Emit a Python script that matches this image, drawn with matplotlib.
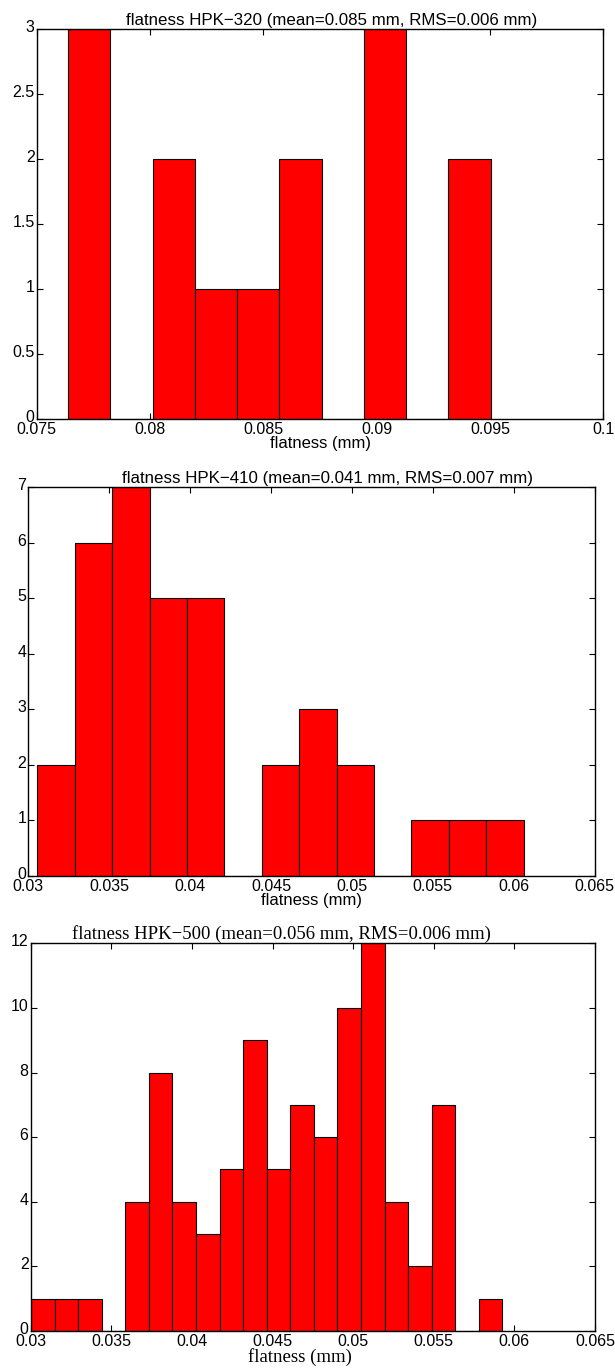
import numpy as np
import matplotlib
matplotlib.use("Agg")
import matplotlib.pyplot as plt
import matplotlib.transforms as mtransforms
from matplotlib.ticker import MultipleLocator, FuncFormatter

# Histogram counts per bin and the bin range for each sensor batch
counts_320 = [3, 0, 2, 1, 1, 2, 0, 3, 0, 2]
range_320 = (0.07638, 0.09503)

counts_410 = [2, 6, 7, 5, 5, 0, 2, 3, 2, 0, 1, 1, 1]
range_410 = (0.03056, 0.06061)

counts_500 = [1, 1, 1, 0, 4, 8, 4, 3, 5, 9, 5, 7, 6, 10, 12, 4, 2, 7, 0, 1]
range_500 = (0.03002, 0.05926)

titles = [
    "flatness HPK\u2212320 (mean=0.085 mm, RMS=0.006 mm)",
    "flatness HPK\u2212410 (mean=0.041 mm, RMS=0.007 mm)",
    "flatness HPK\u2212500 (mean=0.056 mm, RMS=0.006 mm)",
]
xlabel = "flatness (mm)"

xlims = [(0.075, 0.1), (0.03, 0.065), (0.03, 0.065)]
ylims = [3, 7, 12]
ysteps = [0.5, 1, 2]

SANS = ["Liberation Sans", "DejaVu Sans"]
SERIF = ["Liberation Serif", "DejaVu Serif"]

fig = plt.figure(figsize=(6.15, 13.72), dpi=100)

positions = [
    [0.0597, 0.6948, 0.9213, 0.2840],
    [0.0460, 0.3615, 0.9210, 0.2833],
    [0.0499, 0.02988, 0.9176, 0.2826],
]

datasets = [(counts_320, range_320), (counts_410, range_410), (counts_500, range_500)]
label_fonts = [SANS, SANS, SERIF]
title_sizes = [12.2, 12.2, 13.5]
xlabel_sizes = [12, 12, 13.5]
# horizontal placement of titles and x labels (axes fraction)
title_x = [0.521, 0.529, 0.445]
xlabel_x = [0.5, 0.5, 0.477]

# y tick labels sit slightly above their ticks
ylabel_shift = mtransforms.ScaledTranslation(0, 3.0 / 100, fig.dpi_scale_trans)


def fmt(v, pos):
    return "%g" % v


for i, ((counts, (lo, hi)), pos) in enumerate(zip(datasets, positions)):
    ax = fig.add_axes(pos)
    edges = np.linspace(lo, hi, len(counts) + 1)
    widths = np.diff(edges)
    ax.bar(edges[:-1], counts, width=widths, align="edge",
           color="#ff0000", edgecolor="black", linewidth=0.8, zorder=2)
    ax.set_xlim(*xlims[i])
    ax.set_ylim(0, ylims[i])
    ax.xaxis.set_major_locator(MultipleLocator(0.005))
    ax.yaxis.set_major_locator(MultipleLocator(ysteps[i]))
    ax.xaxis.set_major_formatter(FuncFormatter(fmt))
    ax.yaxis.set_major_formatter(FuncFormatter(fmt))
    ax.tick_params(direction="in", length=4, width=0.8, top=True, right=True,
                   labelsize=11.5)
    ax.tick_params(axis="x", pad=2.5)
    ax.tick_params(axis="y", pad=1.5)
    for lab in ax.get_xticklabels() + ax.get_yticklabels():
        lab.set_family(SANS)
    for lab in ax.get_yticklabels():
        lab.set_transform(lab.get_transform() + ylabel_shift)
    for sp in ax.spines.values():
        sp.set_linewidth(1.0)
        sp.set_zorder(3)
    ax.set_title(titles[i], fontsize=title_sizes[i], family=label_fonts[i],
                 pad=3, x=title_x[i])
    ax.set_xlabel(xlabel, fontsize=xlabel_sizes[i], family=label_fonts[i],
                  labelpad=-1, x=xlabel_x[i])

fig.savefig("out.png", dpi=100)
